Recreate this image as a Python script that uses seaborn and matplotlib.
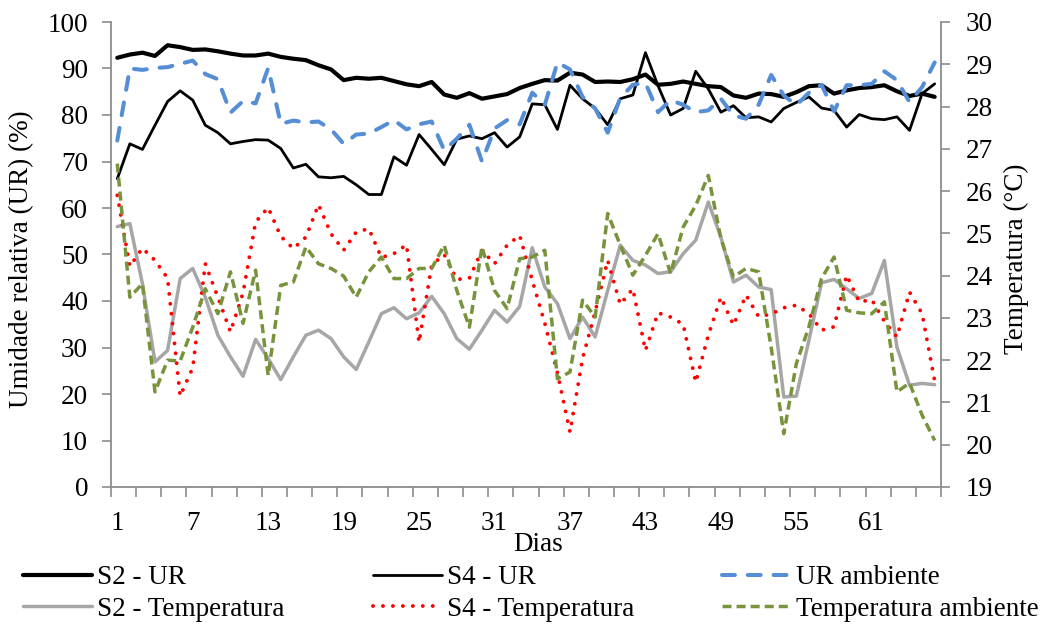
import numpy as np
import matplotlib.pyplot as plt
from matplotlib.ticker import NullFormatter
import seaborn as sns

# Days of the experiment
dias = list(range(1, 67))
x_tick_labels = [1, 7, 13, 19, 25, 31, 37, 43, 49, 55, 61]

# Relative humidity (%) - left axis
s2_ur = [92.3, 93.0, 93.4, 92.7, 95.0, 94.6, 94.0, 94.1, 93.7, 93.2,
         92.8, 92.8, 93.2, 92.5, 92.1, 91.8, 90.7, 89.8, 87.5, 88.0,
         87.8, 88.0, 87.3, 86.6, 86.2, 87.1, 84.4, 83.7, 84.7, 83.5,
         84.0, 84.5, 85.8, 86.7, 87.5, 87.4, 89.1, 88.7, 87.1, 87.2,
         87.1, 87.7, 88.7, 86.5, 86.7, 87.2, 86.7, 86.2, 86.0, 84.2,
         83.7, 84.6, 84.5, 83.9, 84.9, 86.2, 86.4, 84.6, 85.3, 85.8,
         86.0, 86.4, 85.1, 84.1, 84.6, 83.9]
s4_ur = [66.3, 73.8, 72.6, 77.8, 82.9, 85.2, 83.2, 77.8, 76.2, 73.8,
         74.3, 74.7, 74.6, 72.8, 68.6, 69.4, 66.7, 66.5, 66.8, 65.0,
         62.9, 62.9, 71.0, 69.2, 75.8, 72.6, 69.3, 74.8, 75.5, 74.9,
         76.2, 73.1, 75.3, 82.4, 82.2, 76.9, 86.4, 83.5, 81.4, 77.9,
         83.5, 84.3, 93.4, 86.3, 80.0, 81.4, 89.4, 85.6, 80.6, 82.0,
         79.4, 79.6, 78.5, 81.4, 82.7, 83.9, 81.5, 81.0, 77.4, 80.1,
         79.2, 79.0, 79.6, 76.7, 84.6, 86.7]
ur_amb = [74.5, 90.0, 89.7, 90.1, 90.3, 91.0, 91.7, 88.8, 87.7, 80.5,
          83.0, 82.5, 90.1, 78.1, 78.8, 78.4, 78.6, 76.9, 73.8, 75.8,
          76.0, 77.4, 78.9, 76.9, 78.0, 78.6, 72.4, 74.9, 77.9, 70.0,
          77.1, 78.9, 78.0, 84.8, 82.2, 91.3, 89.8, 83.9, 81.4, 76.2,
          83.7, 86.5, 86.9, 80.6, 83.2, 82.2, 80.6, 81.0, 83.5, 79.9,
          79.2, 82.2, 88.6, 84.2, 82.1, 84.8, 86.5, 80.8, 86.4, 86.4,
          86.7, 89.4, 87.5, 82.8, 86.0, 91.3]

# Temperature (°C) - right axis
s2_temp = [25.16, 25.23, 23.81, 21.96, 22.23, 23.93, 24.17, 23.49, 22.59, 22.08,
           21.62, 22.49, 22.04, 21.54, 22.08, 22.59, 22.71, 22.51, 22.08, 21.78,
           22.43, 23.10, 23.24, 22.98, 23.12, 23.51, 23.10, 22.51, 22.26, 22.71,
           23.18, 22.90, 23.27, 24.66, 23.73, 23.34, 22.51, 23.02, 22.55, 23.65,
           24.72, 24.36, 24.25, 24.05, 24.09, 24.52, 24.84, 25.74, 24.91, 23.85,
           24.01, 23.73, 23.67, 21.13, 21.15, 22.47, 23.83, 23.91, 23.69, 23.46,
           23.58, 24.36, 22.31, 21.41, 21.45, 21.42]
s4_temp = [25.90, 24.22, 24.65, 24.36, 23.94, 21.15, 21.82, 24.28, 23.49, 22.67,
           23.59, 25.27, 25.61, 24.93, 24.64, 24.91, 25.68, 24.99, 24.60, 25.03,
           25.11, 24.43, 24.52, 24.73, 22.42, 24.25, 24.50, 23.91, 23.94, 24.60,
           24.28, 24.72, 24.95, 23.89, 22.87, 21.70, 20.30, 22.04, 23.14, 24.36,
           23.32, 23.69, 22.23, 23.12, 23.02, 22.85, 21.48, 22.59, 23.49, 22.83,
           23.54, 23.03, 23.09, 23.24, 23.30, 23.10, 22.71, 22.79, 24.01, 23.38,
           23.43, 22.92, 22.55, 23.61, 23.10, 21.51]
temp_amb = [26.65, 23.49, 23.81, 21.25, 22.00, 21.98, 22.78, 23.69, 23.10, 24.09,
            22.87, 24.13, 21.64, 23.77, 23.85, 24.68, 24.28, 24.17, 23.99, 23.49,
            24.09, 24.44, 23.93, 23.93, 24.17, 24.17, 24.72, 23.65, 22.78, 24.68,
            23.65, 23.22, 24.40, 24.44, 24.60, 21.56, 21.72, 23.42, 23.02, 25.47,
            24.72, 24.01, 24.48, 24.99, 24.05, 25.15, 25.66, 26.37, 24.88, 23.97,
            24.17, 24.09, 22.30, 20.26, 21.92, 22.79, 23.93, 24.44, 23.18, 23.12,
            23.10, 23.38, 21.25, 21.46, 20.70, 20.10]

sns.set_theme(style="white")
plt.rcParams['font.family'] = ['Liberation Serif', 'DejaVu Serif']
plt.rcParams['text.color'] = 'black'
plt.rcParams['axes.labelcolor'] = 'black'

fs = 19.5
axis_gray = '#8C8C8C'

fig = plt.figure(figsize=(10.53, 6.25), dpi=100)
ax = fig.add_axes([0.1054, 0.2208, 0.7882, 0.744])
ax2 = ax.twinx()

# humidity lines
sns.lineplot(x=dias, y=s2_ur, ax=ax, color='black', linewidth=3.0,
             label='S2 - UR', legend=False)
sns.lineplot(x=dias, y=s4_ur, ax=ax, color='black', linewidth=2.0,
             label='S4 - UR', legend=False)
sns.lineplot(x=dias, y=ur_amb, ax=ax, color='#558ED5', linewidth=2.9,
             linestyle=(0, (3.2, 3.2)), dash_capstyle='round',
             label='UR ambiente', legend=False)

# temperature lines
sns.lineplot(x=dias, y=s2_temp, ax=ax2, color='#A6A6A6', linewidth=2.5,
             label='S2 - Temperatura', legend=False)
sns.lineplot(x=dias, y=s4_temp, ax=ax2, color='#FF0000', linewidth=2.8,
             linestyle=(0, (0.01, 2.55)), dash_capstyle='round',
             label='S4 - Temperatura', legend=False)
sns.lineplot(x=dias, y=temp_amb, ax=ax2, color='#77933C', linewidth=2.5,
             linestyle=(0, (2.6, 1.45)),
             label='Temperatura ambiente', legend=False)

ax.set_xlim(0.5, 66.5)
ax.set_ylim(0, 100)
ax2.set_ylim(19, 30)
ax.set_yticks(range(0, 101, 10))
ax2.set_yticks(range(19, 31))

# tick marks every 2 days, labels every 6
ax.set_xticks(np.arange(0.5, 67, 2))
ax.xaxis.set_major_formatter(NullFormatter())
ax.set_xticks(x_tick_labels, minor=True)
ax.set_xticklabels([str(v) for v in x_tick_labels], minor=True)
ax.tick_params(axis='x', which='major', bottom=True, direction='out',
               length=7, width=1.2, color=axis_gray)
ax.tick_params(axis='x', which='minor', bottom=True, length=0, pad=17,
               labelsize=fs, labelcolor='black')
ax.tick_params(axis='y', left=True, direction='out', length=6.5, width=1.2,
               color=axis_gray, pad=10, labelsize=fs, labelcolor='black')
ax2.tick_params(axis='y', right=True, direction='out', length=6.5, width=1.2,
                color=axis_gray, pad=11.5, labelsize=fs, labelcolor='black')

for s in ['top', 'right']:
    ax.spines[s].set_visible(False)
for s in ['top', 'left', 'bottom']:
    ax2.spines[s].set_visible(False)
for sp in [ax.spines['left'], ax.spines['bottom'], ax2.spines['right']]:
    sp.set_color(axis_gray)
    sp.set_linewidth(1.3)

ax.set_xlabel('Dias', fontsize=fs)
ax.xaxis.set_label_coords(0.5145, -0.097)
ax.set_ylabel('Umidade relativa (UR) (%)', fontsize=fs)
ax.yaxis.set_label_coords(-0.0925, 0.49)
ax2.set_ylabel('Temperatura (°C)', fontsize=fs)
ax2.yaxis.set_label_coords(1.076, 0.49)

# legend: three columns of two rows
l1 = ax.get_lines()
l2 = ax2.get_lines()
cols = [[l1[0], l2[0]], [l1[1], l2[1]], [l1[2], l2[2]]]
for hs, x0 in zip(cols, [23, 373, 722]):
    fig.legend(handles=hs, labels=[h.get_label() for h in hs],
               loc='upper left', bbox_to_anchor=(x0 / 1053, 1 - 565 / 625),
               frameon=False, borderpad=0, borderaxespad=0,
               handlelength=2.55, handletextpad=0.2, labelspacing=0.25,
               fontsize=fs)

fig.savefig('out.png', dpi=100)
